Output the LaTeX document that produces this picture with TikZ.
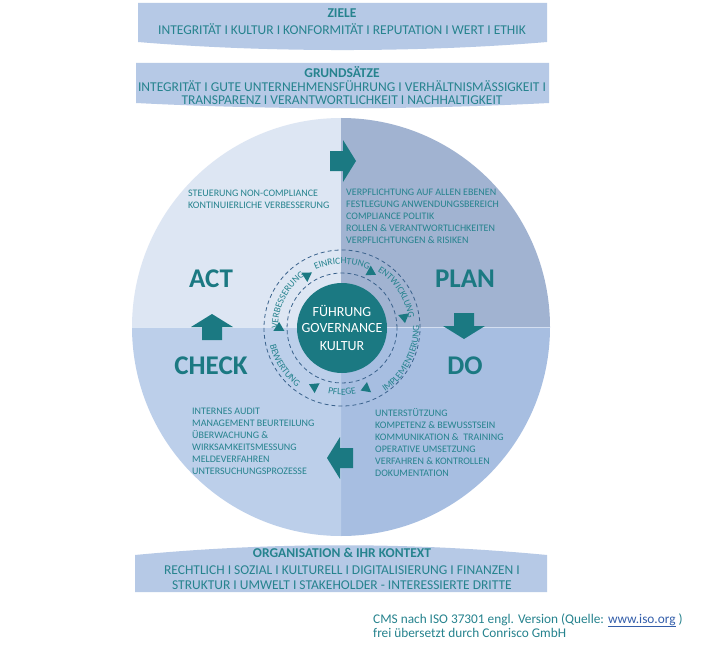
\documentclass[tikz,border=0pt]{standalone}
\usepackage{fontspec}
\setmainfont{Carlito}
\usetikzlibrary{decorations.text,calc}
\definecolor{tealA}{RGB}{27,121,130}
\definecolor{tealT}{RGB}{38,131,142}
\definecolor{bannerC}{RGB}{182,201,230}
\definecolor{qact}{RGB}{221,230,243}
\definecolor{qplan}{RGB}{161,179,209}
\definecolor{qcheck}{RGB}{188,207,234}
\definecolor{qdo}{RGB}{167,190,225}
\definecolor{dashC}{RGB}{58,98,140}
\definecolor{linkC}{RGB}{51,94,170}
\newcommand\ringfnt{\fontsize{9.5}{11}\selectfont}
\begin{document}
\begin{tikzpicture}[x=1pt,y=1pt,
  bantitle/.style={font=\fontsize{13.5}{15}\selectfont\bfseries, text=tealT, inner sep=0},
  banline/.style={font=\fontsize{13.5}{15}\selectfont, text=tealT, inner sep=0},
  biglbl/.style={font=\fontsize{27}{30}\selectfont\bfseries, text=tealA, inner sep=0},
  qtext/.style={font=\fontsize{10}{12}\selectfont, text=tealT, align=left, anchor=west, inner sep=0},
  ctext/.style={font=\fontsize{14}{16}\selectfont, text=white, inner sep=0},
  foot/.style={anchor=base west, inner sep=0, font=\fontsize{13.3}{15}\selectfont, text=tealT},
  ringlbl/.style={decorate, decoration={text along path, text align=center, text color=tealT}},
  blockarr/.pic={\fill[tealA] (-13,10) -- (0,10) -- (0,21) -- (13,0) -- (0,-21) -- (0,-10) -- (-13,-10) -- cycle;},
  ringtri/.pic={\fill[tealA] (5,0) -- (-4,5.5) -- (-4,-5.5) -- cycle;},
]
\useasboundingbox (0,0) rectangle (709,-650);
\fill[white] (0,0) rectangle (709,-650);

% banners
\fill[bannerC] (138,-3) -- (547,-3) -- (547,-42) .. controls (420,-52.7) and (265,-52.7) .. (138,-42) -- cycle;
\fill[bannerC] (136,-63) -- (549,-63) -- (549,-103) .. controls (410,-110) and (275,-110) .. (136,-103) -- cycle;
\fill[bannerC] (135,-592) -- (547,-592) -- (547,-555) .. controls (410,-542) and (272,-542) .. (135,-555) -- cycle;

\node[bantitle] (zt) at (342,-13) {ZIELE};
\node[banline] (zl) at (342,-29) {INTEGRITÄT I KULTUR I KONFORMITÄT I REPUTATION I WERT I ETHIK};
\node[bantitle] (gt) at (342,-72) {GRUNDSÄTZE};
\node[banline] (gl1) at (342,-86) {INTEGRITÄT I GUTE UNTERNEHMENSFÜHRUNG I VERHÄLTNISMÄSSIGKEIT I};
\node[banline] (gl2) at (342,-100) {TRANSPARENZ I VERANTWORTLICHKEIT I NACHHALTIGKEIT};
\node[bantitle] (ot) at (342,-553) {ORGANISATION \& IHR KONTEXT};
\node[banline] (ol1) at (342,-570) {RECHTLICH I SOZIAL I KULTURELL I DIGITALISIERUNG I FINANZEN I};
\node[banline] (ol2) at (342,-585) {STRUKTUR I UMWELT I STAKEHOLDER - INTERESSIERTE DRITTE};

% quadrants
\coordinate (O) at (341,-327);
\fill[qact] (O) -- ++(180:209) arc[start angle=180,end angle=90,radius=209] -- cycle;
\fill[qplan] (O) -- ++(90:209) arc[start angle=90,end angle=0,radius=209] -- cycle;
\fill[qdo] (O) -- ++(0:209) arc[start angle=0,end angle=-90,radius=209] -- cycle;
\fill[qcheck] (O) -- ++(-90:209) arc[start angle=-90,end angle=-180,radius=209] -- cycle;
\draw[white, opacity=0.5, line width=1pt] ([shift={(180:209)}]O) -- ([shift={(0:209)}]O);

% big labels
\node[biglbl] (act) at (211,-279) {ACT};
\node[biglbl] (plan) at (465,-279) {PLAN};
\node[biglbl] (check) at (211,-366) {CHECK};
\node[biglbl] (do) at (465,-366) {DO};

% quadrant texts
\node[qtext] (tact) at (188,-199) {STEUERUNG NON-COMPLIANCE\\KONTINUIERLICHE VERBESSERUNG};
\node[qtext] (tplan) at (346,-216) {VERPFLICHTUNG AUF ALLEN EBENEN\\FESTLEGUNG ANWENDUNGSBEREICH\\COMPLIANCE POLITIK\\ROLLEN \& VERANTWORTLICHKEITEN\\VERPFLICHTUNGEN \& RISIKEN};
\node[qtext] (tcheck) at (192,-441) {INTERNES AUDIT\\MANAGEMENT BEURTEILUNG\\ÜBERWACHUNG \&\\WIRKSAMKEITSMESSUNG\\MELDEVERFAHREN\\UNTERSUCHUNGSPROZESSE};
\node[qtext] (tdo) at (375,-443) {UNTERSTÜTZUNG\\KOMPETENZ \& BEWUSSTSEIN\\KOMMUNIKATION \&\ \ TRAINING\\OPERATIVE UMSETZUNG\\VERFAHREN \& KONTROLLEN\\DOKUMENTATION};

% block arrows
\pic at (343,-161) {blockarr};
\pic[rotate=-90] at (464,-326) {blockarr};
\pic[rotate=180] at (340,-458) {blockarr};
\pic[rotate=90] at (212,-327) {blockarr};

% ring
\coordinate (C) at (342,-328);
\draw[dashC, line width=0.8pt, dash pattern=on 4pt off 3pt] (C) circle[radius=78];
\draw[dashC, line width=0.8pt, dash pattern=on 4pt off 3pt] (C) circle[radius=55];
\fill[tealA] (C) circle[radius=45];
\node[ctext] (c1) at (342,-311) {FÜHRUNG};
\node[ctext] (c2) at (342,-328.5) {GOVERNANCE};
\node[ctext] (c3) at (342,-346) {KULTUR};

\pic[rotate=33] at ([shift={(123:63)}]C) {ringtri};
\pic[rotate=-29] at ([shift={(62:63)}]C) {ringtri};
\pic[rotate=-81] at ([shift={(9:63)}]C) {ringtri};
\pic[rotate=-158] at ([shift={(-69:65)}]C) {ringtri};
\pic[rotate=-206] at ([shift={(-116:65)}]C) {ringtri};
\pic[rotate=89] at ([shift={(179:63)}]C) {ringtri};

\path[ringlbl, decoration={text={|\ringfnt|EINRICHTUNG}}] ([shift={(130:64)}]C) arc[start angle=130,end angle=50,radius=64];
\path[ringlbl, decoration={text={|\ringfnt|ENTWICKLUNG}}] ([shift={(73:67)}]C) arc[start angle=73,end angle=-7,radius=67];
\path[ringlbl, decoration={text={|\ringfnt|IMPLEMENTIERUNG}}] ([shift={(-72:77)}]C) arc[start angle=-72,end angle=18,radius=77];
\path[ringlbl, decoration={text={|\ringfnt|PFLEGE}}] ([shift={(-130:67)}]C) arc[start angle=-130,end angle=-50,radius=67];
\path[ringlbl, decoration={text={|\ringfnt|BEWERTUNG}}] ([shift={(168:74)}]C) arc[start angle=168,end angle=258,radius=74];
\path[ringlbl, decoration={text={|\ringfnt|VERBESSERUNG}}] ([shift={(200:64)}]C) arc[start angle=200,end angle=106,radius=64];

% footnote
\node[foot] (f1) at (373,-623) {CMS nach ISO 37301 engl. Version (Quelle: \textcolor{linkC}{\underline{www.iso.org}} )};
\node[foot] (f2) at (373,-637) {frei übersetzt durch Conrisco GmbH};
\end{tikzpicture}
\end{document}
